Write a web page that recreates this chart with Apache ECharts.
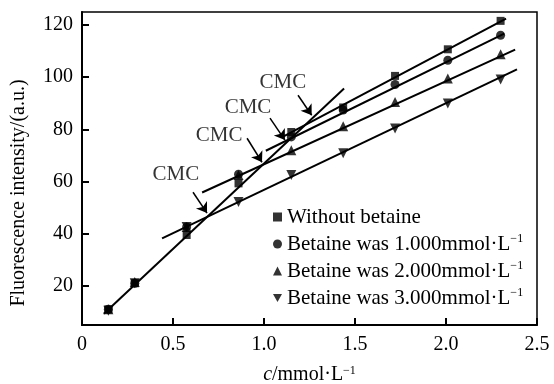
<!DOCTYPE html>
<html>
<head>
<meta charset="utf-8">
<script src="https://cdn.jsdelivr.net/npm/echarts@6/dist/echarts.min.js"></script>
<style>
  html, body { margin: 0; padding: 0; background: #fff; }
  #main { width: 554px; height: 384px; }
</style>
</head>
<body>
<div id="main"></div>
<script>
// concentration of surfactant (mmol/L)
var conc = [0.145, 0.29, 0.575, 0.86, 1.15, 1.435, 1.72, 2.01, 2.30];

// fluorescence intensity for each betaine level
var noBetaine = [11, 21, 39.5, 59.3, 79, 88.4, 100.5, 110.7, 121.6];
var betaine1 = [11, 21, 42.6, 62.8, 77.1, 87.4, 97.2, 106.5, 116.1];
var betaine2 = [11, 21.5, 42.6, 62.5, 72, 81.2, 90.5, 99.5, 108.8];
var betaine3 = [10.5, 21, 42.6, 52.2, 62.5, 70.8, 80.3, 89.9, 99.1];

var seriesNames = [
  "Without betaine",
  "Betaine was 1.000mmol·L⁻¹",
  "Betaine was 2.000mmol·L⁻¹",
  "Betaine was 3.000mmol·L⁻¹"
];

// fitted straight lines (start / end points)
var fitSteep = [[0.12, 9.3], [1.44, 95.7]];
var fitNoBetaine = [[1.10, 77.0], [2.33, 122.5]];
var fitBetaine1 = [[1.01, 71.8], [2.32, 116.7]];
var fitBetaine2 = [[0.66, 55.8], [2.38, 110.6]];
var fitBetaine3 = [[0.44, 38.2], [2.39, 103.0]];

// CMC annotations
var cmcText = [[1.104, 98.1], [0.912, 88.5], [0.753, 77.8], [0.516, 62.8]];
var cmcArrowFrom = [[1.187, 93.1], [1.033, 84.3], [0.907, 76.6], [0.610, 55.9]];
var cmcArrowTo = [[1.262, 85.4], [1.115, 75.9], [0.989, 67.4], [0.687, 47.9]];

var yTicks = [20, 40, 60, 80, 100, 120];

var font = "'Liberation Serif', 'Times New Roman', serif";
var downTri = "path://M0,0 L10,0 L5,9 Z";

function pairs(xs, ys) {
  return xs.map(function (x, i) { return [x, ys[i]]; });
}

function fitLine(pts) {
  return {
    type: "line",
    data: pts,
    symbol: "none",
    silent: true,
    lineStyle: { color: "#000", width: 2 },
    z: 2
  };
}

function markers(name, ys, symbol, size) {
  return {
    name: name,
    type: "scatter",
    data: pairs(conc, ys),
    symbol: symbol,
    symbolSize: size,
    itemStyle: { color: "#000" },
    z: 3
  };
}

var myChart = echarts.init(document.getElementById("main"));

var option = {
  animation: false,
  grid: {
    left: 82,
    right: 17,
    top: 12,
    bottom: 59,
    show: true,
    borderColor: "#000",
    borderWidth: 1.5,
    outerBoundsMode: "none"
  },
  // y axis title sits a bit below the plot centre in the original
  graphic: [
    {
      type: "text",
      x: 19,
      y: 193,
      rotation: Math.PI / 2,
      style: {
        text: "Fluorescence intensity/(a.u.)",
        fontFamily: font,
        fontSize: 20,
        fill: "#000",
        textAlign: "center",
        textVerticalAlign: "middle"
      }
    }
  ],
  legend: {
    data: seriesNames,
    orient: "vertical",
    left: 273,
    top: 206,
    padding: 0,
    itemGap: 5,
    itemWidth: 9,
    itemHeight: 9,
    textStyle: {
      fontFamily: font,
      fontSize: 21,
      color: "#000",
      lineHeight: 22,
      rich: {
        sup: { fontFamily: font, fontSize: 12, verticalAlign: "top", lineHeight: 12, color: "#000" }
      }
    },
    formatter: function (name) {
      return name.replace("⁻¹", "{sup|−1}");
    }
  },
  xAxis: {
    type: "value",
    min: 0,
    max: 2.5,
    interval: 0.5,
    name: "{it|c}/mmol·L{sup|−1}",
    nameLocation: "middle",
    nameGap: 40,
    nameTextStyle: {
      fontFamily: font,
      fontSize: 20,
      color: "#000",
      rich: {
        it: { fontFamily: font, fontSize: 20, fontStyle: "italic", color: "#000" },
        sup: { fontFamily: font, fontSize: 12, verticalAlign: "top", lineHeight: 12, color: "#000" }
      }
    },
    axisLine: { lineStyle: { color: "#000", width: 2 } },
    axisTick: { inside: true, length: 7, lineStyle: { color: "#000", width: 2 } },
    axisLabel: {
      fontFamily: font,
      fontSize: 20,
      color: "#000",
      margin: 10,
      formatter: function (v) { return v === 0 ? "0" : v.toFixed(1); }
    },
    splitLine: { show: false }
  },
  yAxis: {
    type: "value",
    min: 5,
    max: 125,
    axisLine: { lineStyle: { color: "#000", width: 2 } },
    axisTick: {
      inside: true,
      length: 7,
      customValues: yTicks,
      lineStyle: { color: "#000", width: 2 }
    },
    axisLabel: {
      fontFamily: font,
      fontSize: 20,
      color: "#000",
      margin: 9,
      customValues: yTicks
    },
    splitLine: { show: false }
  },
  series: [
    fitLine(fitSteep),
    fitLine(fitNoBetaine),
    fitLine(fitBetaine1),
    fitLine(fitBetaine2),
    fitLine(fitBetaine3),
    markers(seriesNames[0], noBetaine, "rect", 8),
    markers(seriesNames[1], betaine1, "circle", 9),
    markers(seriesNames[2], betaine2, "triangle", 10),
    markers(seriesNames[3], betaine3, downTri, 10),
    {
      // CMC labels
      type: "scatter",
      data: cmcText,
      symbolSize: 1,
      silent: true,
      itemStyle: { color: "transparent" },
      label: {
        show: true,
        position: "inside",
        formatter: "CMC",
        fontFamily: font,
        fontSize: 21,
        color: "#000"
      },
      z: 4
    },
    {
      // CMC arrows
      type: "line",
      data: [],
      silent: true,
      itemStyle: { color: "#000" },
      lineStyle: { color: "#000" },
      markLine: {
        silent: true,
        animation: false,
        symbol: ["none", "arrow"],
        symbolSize: 10,
        label: { show: false },
        lineStyle: { color: "#000", width: 1.5, type: "solid" },
        data: cmcArrowFrom.map(function (p, i) {
          return [{ coord: p }, { coord: cmcArrowTo[i] }];
        })
      },
      z: 4
    }
  ]
};

myChart.setOption(option);
</script>
</body>
</html>
